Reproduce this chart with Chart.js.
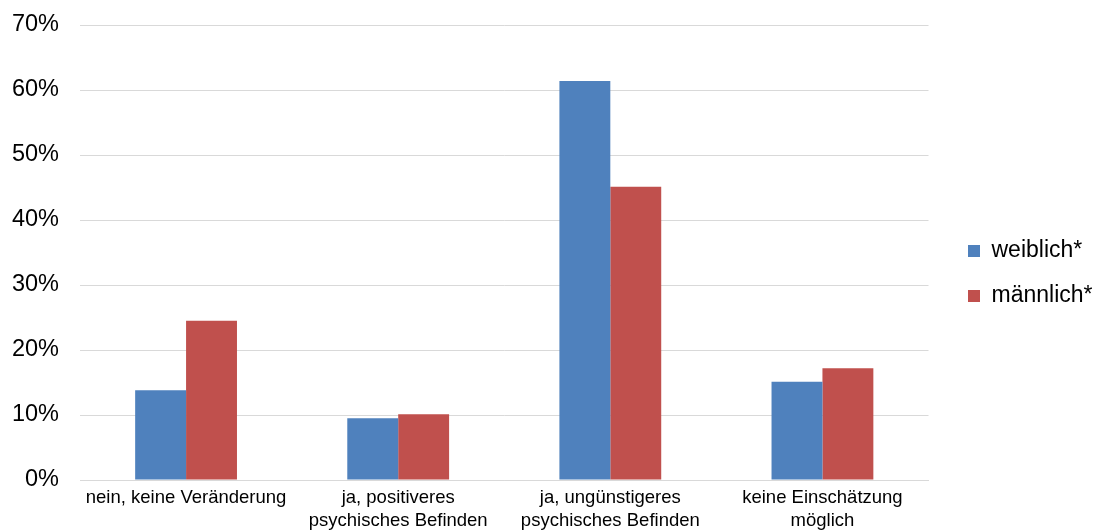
<!DOCTYPE html>
<html>
<head>
<meta charset="utf-8">
<script src="https://cdn.jsdelivr.net/npm/chart.js@4/dist/chart.umd.min.js"></script>
<style>
html,body{margin:0;padding:0;background:#fff;}
#wrap{width:1094px;height:532px;position:relative;}
</style>
</head>
<body>
<div id="wrap"><canvas id="c"></canvas></div>
<script>
const categories = [
  "nein, keine Veränderung",
  ["ja, positiveres", "psychisches Befinden"],
  ["ja, ungünstigeres", "psychisches Befinden"],
  ["keine Einschätzung", "möglich"]
];
const seriesNames = ["weiblich*", "männlich*"];
const weiblich = [13.8, 9.5, 61.4, 15.1];
const maennlich = [24.5, 10.1, 45.1, 17.2];
const yTicks = [0, 10, 20, 30, 40, 50, 60, 70];

const FONT = "'Liberation Sans', Arial, sans-serif";

const legendShift = {
  id: 'legendShift',
  afterLayout(chart) {
    const lg = chart.legend;
    if (!lg) return;
    const dx = 968 - (chart.chartArea.right + 22);
    lg.left += dx; lg.right += dx;
    lg.top -= 5; lg.bottom -= 5;
  }
};

new Chart(document.getElementById('c'), {
  type: 'bar',
  data: {
    labels: categories,
    datasets: [
      {label: seriesNames[0], data: weiblich, backgroundColor: '#4F81BD', borderWidth: 0},
      {label: seriesNames[1], data: maennlich, backgroundColor: '#C0504D', borderWidth: 0}
    ]
  },
  plugins: [legendShift],
  options: {
    responsive: true,
    maintainAspectRatio: false,
    animation: false,
    layout: {padding: {top: 25, left: 12, right: 9, bottom: 0}},
    datasets: {bar: {barPercentage: 1, categoryPercentage: 0.48}},
    plugins: {
      legend: {
        position: 'right',
        align: 'center',
        labels: {
          font: {family: FONT, size: 23},
          color: '#000',
          boxWidth: 12,
          boxHeight: 12,
          padding: 22
        }
      },
      tooltip: {enabled: false}
    },
    scales: {
      x: {
        afterFit: (axis) => { axis.height = 52; },
        grid: {display: false, drawTicks: false},
        border: {display: true, color: '#d9d9d9', width: 1},
        ticks: {font: {family: FONT, size: 18.5, lineHeight: '23px'}, color: '#000', padding: 6, maxRotation: 0, autoSkip: false}
      },
      y: {
        min: 0, max: 70,
        afterFit: (axis) => { axis.width = 68; axis.paddingTop = 0; },
        afterBuildTicks: (axis) => { axis.ticks = yTicks.map(v => ({value: v})); },
        grid: {color: '#d9d9d9', lineWidth: 1, drawTicks: false},
        border: {display: false},
        ticks: {font: {family: FONT, size: 23.5}, color: '#000', padding: 21, callback: v => v + '%'}
      }
    }
  }
});
</script>
</body>
</html>
